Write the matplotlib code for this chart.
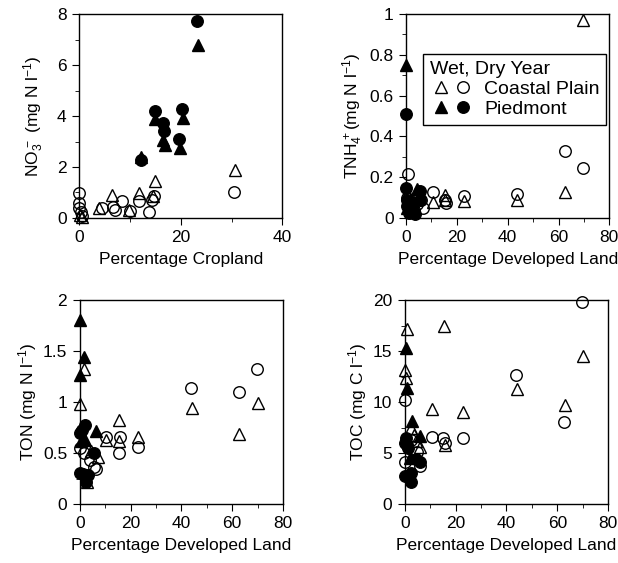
import numpy as np
import matplotlib
matplotlib.use("Agg")
import matplotlib.pyplot as plt
from matplotlib.ticker import MultipleLocator, FormatStrFormatter
from matplotlib.legend_handler import HandlerTuple

plt.rcParams['font.family'] = ['Liberation Sans', 'DejaVu Sans']
plt.rcParams['mathtext.fontset'] = 'custom'
plt.rcParams['mathtext.rm'] = 'Liberation Sans'
plt.rcParams['mathtext.it'] = 'Liberation Sans:italic'
plt.rcParams['font.size'] = 12

# ---- data ----
# panel a: NO3 vs cropland
no3_cp_wet_x = [30.7, 15.0, 6.4, 11.8, 4.0, 0.2, 0.5, 14.5, 9.8]
no3_cp_wet_y = [1.89, 1.45, 0.90, 0.99, 0.40, 0.10, 0.05, 0.85, 0.30]
no3_cp_dry_x = [30.5, 0, 0, 0, 0.3, 0.6, 4.6, 6.6, 7.0, 8.4, 10.0, 11.8, 13.7, 14.4, 14.7]
no3_cp_dry_y = [1.02, 0.98, 0.59, 0.40, 0.22, 0.06, 0.38, 0.42, 0.33, 0.67, 0.27, 0.68, 0.25, 0.71, 0.86]
no3_pd_wet_x = [23.3, 15.0, 16.5, 16.9, 19.8, 20.5, 12.2]
no3_pd_wet_y = [6.79, 3.89, 3.05, 2.87, 2.74, 3.92, 2.40]
no3_pd_dry_x = [23.1, 15.0, 16.5, 16.7, 19.6, 20.3, 12.2]
no3_pd_dry_y = [7.74, 4.20, 3.72, 3.42, 3.11, 4.29, 2.26]

# panel b: TNH4 vs developed land
nh4_cp_wet_x = [69.8, 62.7, 43.8, 22.7, 10.5, 15.3, 15.4, 0.5, 1.5, 5.0, 2.5]
nh4_cp_wet_y = [0.97, 0.127, 0.086, 0.085, 0.08, 0.115, 0.09, 0.12, 0.08, 0.13, 0.06]
nh4_cp_dry_x = [62.6, 69.8, 43.8, 22.7, 10.5, 15.4, 15.6, 0.9, 0.3, 5.8, 6.5, 4.5, 3.0]
nh4_cp_dry_y = [0.33, 0.245, 0.12, 0.106, 0.126, 0.09, 0.073, 0.215, 0.10, 0.09, 0.05, 0.07, 0.04]
nh4_pd_wet_x = [0, 4.2, 1.0, 2.0, 0.3]
nh4_pd_wet_y = [0.75, 0.14, 0.07, 0.03, 0.05]
nh4_pd_dry_x = [0, 0, 0.3, 0.3, 1.0, 2.9, 5.5, 5.5, 2.0, 3.5]
nh4_pd_dry_y = [0.51, 0.145, 0.09, 0.057, 0.025, 0.04, 0.13, 0.09, 0.08, 0.02]

# panel c: TON vs developed land
ton_cp_wet_x = [1.6, 0.3, 44.0, 62.8, 70.0, 15.5, 15.5, 23.1, 10.3, 7.2, 4.5, 3.0]
ton_cp_wet_y = [1.32, 0.98, 0.94, 0.69, 0.99, 0.82, 0.62, 0.66, 0.63, 0.46, 0.52, 0.22]
ton_cp_dry_x = [43.8, 62.5, 69.8, 15.8, 15.4, 22.9, 10.5, 0, 1.6, 5.6, 6.3, 4.0]
ton_cp_dry_y = [1.14, 1.10, 1.32, 0.66, 0.50, 0.56, 0.66, 0.55, 0.50, 0.36, 0.34, 0.43]
ton_pd_wet_x = [0, 1.8, 0, 6.3, 2.0, 0.5]
ton_pd_wet_y = [1.80, 1.44, 1.26, 0.72, 0.63, 0.62]
ton_pd_dry_x = [0.8, 2.0, 0, 5.5, 0, 2.4, 3.3, 1.2]
ton_pd_dry_y = [0.73, 0.77, 0.70, 0.50, 0.30, 0.22, 0.28, 0.29]

# panel d: TOC vs developed land
toc_cp_wet_x = [70.1, 44.0, 63.0, 15.3, 1.0, 0, 0.3, 10.8, 22.8, 15.7, 2.6, 4.5, 6.0, 3.5]
toc_cp_wet_y = [14.5, 11.3, 9.75, 17.5, 17.2, 13.1, 12.4, 9.3, 9.0, 5.8, 7.5, 6.2, 5.6, 6.8]
toc_cp_dry_x = [69.8, 43.7, 62.8, 0, 10.8, 22.8, 15.0, 15.7, 0, 4.8, 5.9, 2.5]
toc_cp_dry_y = [19.8, 12.6, 8.0, 10.2, 6.6, 6.5, 6.5, 5.95, 4.1, 5.05, 3.7, 6.3]
toc_pd_wet_x = [0.3, 0.7, 3.0, 5.9, 2.0]
toc_pd_wet_y = [15.3, 11.4, 8.1, 6.7, 4.5]
toc_pd_dry_x = [0.3, 0.7, 1.2, 0, 2.6, 2.6, 5.9, 4.5, 0]
toc_pd_dry_y = [6.5, 5.8, 5.45, 2.75, 3.07, 2.2, 4.13, 4.4, 6.0]

fig = plt.figure(figsize=(6.18, 5.63), dpi=100)

w, h = 0.329, 0.3623
ax1 = fig.add_axes([0.128, 0.6128, w, h])
ax2 = fig.add_axes([0.657, 0.6128, w, h])
ax3 = fig.add_axes([0.129, 0.1048, w, h])
ax4 = fig.add_axes([0.655, 0.1048, w, h])

ms = 8.3
fs = 12.5


def draw(ax, cpw, cpd, pdw, pdd):
    hs = []
    hs.append(ax.plot(cpw[0], cpw[1], '^', ms=ms, mfc='none', mec='k', mew=1.0, ls='none', clip_on=False)[0])
    hs.append(ax.plot(cpd[0], cpd[1], 'o', ms=ms, mfc='none', mec='k', mew=1.0, ls='none', clip_on=False)[0])
    hs.append(ax.plot(pdw[0], pdw[1], '^', ms=ms, mfc='k', mec='k', ls='none', clip_on=False)[0])
    hs.append(ax.plot(pdd[0], pdd[1], 'o', ms=ms, mfc='k', mec='k', ls='none', clip_on=False)[0])
    return hs


def style(ax, xmax, xmaj, xmin, ymax, ymaj, ymin, xlabel, ylabel, ypad=3):
    ax.set_xlim(0, xmax)
    ax.set_ylim(0, ymax)
    ax.xaxis.set_major_locator(MultipleLocator(xmaj))
    ax.xaxis.set_minor_locator(MultipleLocator(xmin))
    ax.yaxis.set_major_locator(MultipleLocator(ymaj))
    ax.yaxis.set_minor_locator(MultipleLocator(ymin))
    ax.yaxis.set_major_formatter(FormatStrFormatter('%g'))
    ax.tick_params(which='major', direction='out', length=5, width=0.8, labelsize=fs, pad=4)
    ax.tick_params(which='minor', direction='out', length=3, width=0.6)
    ax.set_xlabel(xlabel, fontsize=fs, labelpad=5)
    ax.set_ylabel(ylabel, fontsize=fs, labelpad=ypad)
    for s in ax.spines.values():
        s.set_linewidth(1.0)


draw(ax1, (no3_cp_wet_x, no3_cp_wet_y), (no3_cp_dry_x, no3_cp_dry_y),
     (no3_pd_wet_x, no3_pd_wet_y), (no3_pd_dry_x, no3_pd_dry_y))
style(ax1, 40, 20, 10, 8, 2, 1, 'Percentage Cropland', r'NO$_3^{\,-}$ (mg N l$^{-1}$)', ypad=8)

hs = draw(ax2, (nh4_cp_wet_x, nh4_cp_wet_y), (nh4_cp_dry_x, nh4_cp_dry_y),
          (nh4_pd_wet_x, nh4_pd_wet_y), (nh4_pd_dry_x, nh4_pd_dry_y))
style(ax2, 80, 20, 10, 1, 0.2, 0.1, 'Percentage Developed Land', r'TNH$_4^{\,+}$(mg N l$^{-1}$)')

draw(ax3, (ton_cp_wet_x, ton_cp_wet_y), (ton_cp_dry_x, ton_cp_dry_y),
     (ton_pd_wet_x, ton_pd_wet_y), (ton_pd_dry_x, ton_pd_dry_y))
style(ax3, 80, 20, 10, 2, 0.5, 0.25, 'Percentage Developed Land', r'TON (mg N l$^{-1}$)')

draw(ax4, (toc_cp_wet_x, toc_cp_wet_y), (toc_cp_dry_x, toc_cp_dry_y),
     (toc_pd_wet_x, toc_pd_wet_y), (toc_pd_dry_x, toc_pd_dry_y))
style(ax4, 80, 20, 10, 20, 5, 2.5, 'Percentage Developed Land', r'TOC (mg C l$^{-1}$)')

leg = ax2.legend([(hs[0], hs[1]), (hs[2], hs[3])], ['Coastal Plain', 'Piedmont'],
                 handler_map={tuple: HandlerTuple(ndivide=None, pad=0.0)},
                 title='Wet, Dry Year', alignment='left', loc='upper right',
                 bbox_to_anchor=(1.0, 0.818), fontsize=14, title_fontsize=14,
                 frameon=True, fancybox=False, framealpha=1, edgecolor='k',
                 handlelength=2.3, handletextpad=0.5, borderpad=0.35, labelspacing=0.12,
                 borderaxespad=0.15)
leg.get_frame().set_linewidth(1.0)

fig.savefig('out.png', dpi=100)
